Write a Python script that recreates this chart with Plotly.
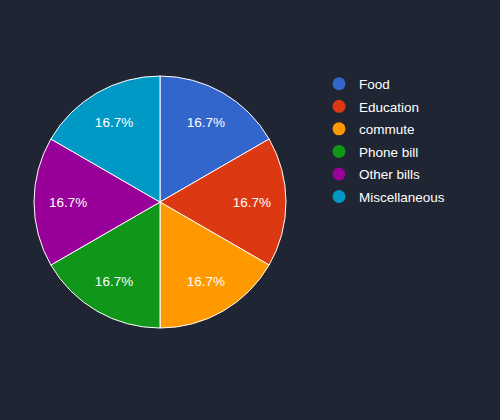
import plotly.graph_objects as go

categories = ["Food", "Education", "commute", "Phone bill", "Other bills", "Miscellaneous"]
values = [1, 1, 1, 1, 1, 1]
colors = ["#3366cc", "#dc3912", "#ff9900", "#109618", "#990099", "#0099c6"]

bg = "#1f2532"
dom = dict(x=[0.068, 0.572], y=[0.219, 0.819])
fig = go.Figure()
fig.add_trace(go.Pie(
    labels=categories, values=values, sort=False, direction="clockwise", rotation=0,
    marker=dict(colors=colors, line=dict(color="white", width=1)),
    textinfo="none", domain=dom, showlegend=False, hoverinfo="skip",
))
fig.add_trace(go.Pie(
    labels=categories, values=values, sort=False, direction="clockwise", rotation=0,
    hole=0.46,
    marker=dict(colors=["rgba(0,0,0,0)"] * len(values), line=dict(width=0)),
    textinfo="percent", texttemplate="%{percent:.1%}", textposition="inside",
    insidetextorientation="horizontal",
    textfont=dict(color="white", size=13.5, family="Liberation Sans, Arial"),
    domain=dom, showlegend=False, hoverinfo="label+percent",
))
for c, col in zip(categories, colors):
    fig.add_trace(go.Scatter(x=[None], y=[None], mode="markers", name=c, legendgroup=c,
                             marker=dict(symbol="circle", size=13, color=col)))

fig.update_layout(
    width=500, height=420, margin=dict(l=0, r=0, t=0, b=0),
    paper_bgcolor=bg, plot_bgcolor=bg,
    xaxis=dict(visible=False), yaxis=dict(visible=False),
    legend=dict(x=0.638, y=0.837, xanchor="left", yanchor="top",
                font=dict(color="white", size=13.5, family="Liberation Sans, Arial"),
                bgcolor="rgba(0,0,0,0)", itemwidth=30, tracegroupgap=2),
    font=dict(family="Liberation Sans, Arial"),
)
fig.write_html("out.html")
